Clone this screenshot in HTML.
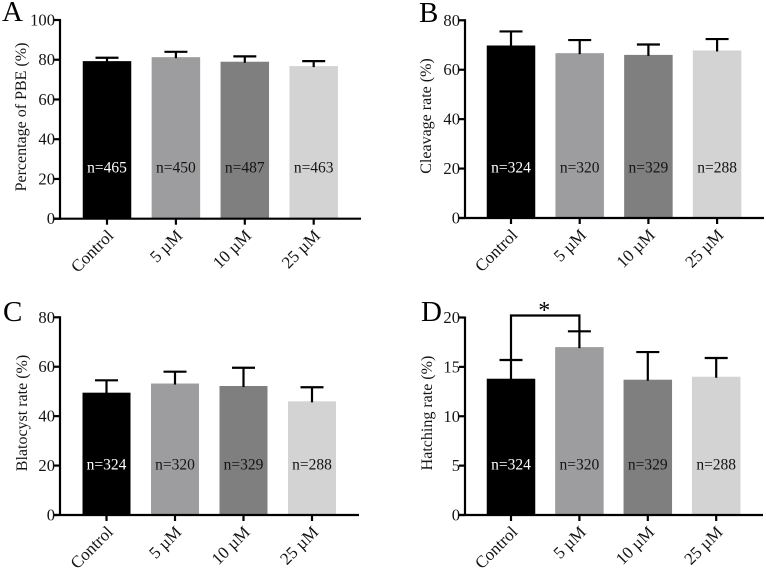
<!DOCTYPE html>
<html lang="en">
<head>
<meta charset="utf-8">
<title>Embryo development bar charts</title>
<style>
html,body{margin:0;padding:0;background:#fff;width:766px;height:568px;overflow:hidden}
svg{display:block}
text{font-family:"Liberation Serif",serif;fill:#141414}
</style>
</head>
<body>
<svg id="figure" width="766" height="568" viewBox="0 0 766 568" xmlns="http://www.w3.org/2000/svg"></svg>
<script>
var categories = ['Control', '5 µM', '10 µM', '25 µM'];
var barColors = ['#000000', '#9d9d9f', '#7f7f7f', '#d3d3d3'];

var valuesA = [79.3, 81.3, 79, 76.8];
var errorTopsA = [81, 84, 81.7, 79.3];
var countsA = ['n=465', 'n=450', 'n=487', 'n=463'];
var ticksA = [0, 20, 40, 60, 80, 100];

var valuesB = [69.8, 66.7, 66, 67.8];
var errorTopsB = [75.5, 72, 70.2, 72.4];
var countsB = ['n=324', 'n=320', 'n=329', 'n=288'];
var ticksB = [0, 20, 40, 60, 80];

var valuesC = [49.5, 53.2, 52.2, 46];
var errorTopsC = [54.5, 58, 59.6, 51.7];
var countsC = ['n=324', 'n=320', 'n=329', 'n=288'];
var ticksC = [0, 20, 40, 60, 80];

var valuesD = [13.8, 17, 13.7, 14];
var errorTopsD = [15.7, 18.6, 16.5, 15.9];
var countsD = ['n=324', 'n=320', 'n=329', 'n=288'];
var ticksD = [0, 5, 10, 15, 20];
var bracketLevelD = 20.2;

var panels = [
  {key:'a', letter:'A', title:'Percentage of PBE (%)', values:valuesA, tops:errorTopsA, counts:countsA, ticks:ticksA,
   axisX:60, y0:218.7, yTop:20, first:107, step:68.9, barW:48.5, end:361, nY:172.5, titleX:26, titleY:117, letterX:2, letterY:21},
  {key:'b', letter:'B', title:'Cleavage rate (%)', values:valuesB, tops:errorTopsB, counts:countsB, ticks:ticksB,
   axisX:465, y0:218, yTop:20.3, first:511, step:68.7, barW:48.5, end:764, nY:172.5, titleX:431, titleY:116, letterX:419, letterY:22},
  {key:'c', letter:'C', title:'Blatocyst rate (%)', values:valuesC, tops:errorTopsC, counts:countsC, ticks:ticksC,
   axisX:60, y0:515, yTop:317.3, first:106.5, step:68.5, barW:48, end:359, nY:469.5, titleX:27, titleY:413, letterX:3, letterY:321},
  {key:'d', letter:'D', title:'Hatching rate (%)', values:valuesD, tops:errorTopsD, counts:countsD, ticks:ticksD,
   axisX:465, y0:515, yTop:317.5, first:511, step:68.4, barW:48.5, end:763, nY:469.5, titleX:432, titleY:413, letterX:421, letterY:321, bracket:bracketLevelD}
];

var NS = 'http://www.w3.org/2000/svg';
var figure = document.getElementById('figure');

function make(parent, tag, attrs, content) {
  var el = document.createElementNS(NS, tag);
  for (var k in attrs) { el.setAttribute(k, attrs[k]); }
  if (content !== undefined) { el.textContent = content; }
  parent.appendChild(el);
  return el;
}

panels.forEach(function (p) {
  var maxTick = p.ticks[p.ticks.length - 1];
  function yScale(v) { return p.y0 - (v / maxTick) * (p.y0 - p.yTop); }
  function xScale(i) { return p.first + i * p.step; }

  var g = make(figure, 'g', {});
  
  

  var letter = make(g, 'text', {x: p.letterX, y: p.letterY, 'font-size': 29, style: 'fill:#000'}, p.letter);
  
  

  var title = make(g, 'text', {x: p.titleX, y: p.titleY, 'font-size': 16, 'text-anchor': 'middle',
    transform: 'rotate(-90 ' + p.titleX + ' ' + p.titleY + ')'}, p.title);
  
  

  categories.forEach(function (c, i) {
    var x = xScale(i);
    var bar = make(g, 'rect', {x: x - p.barW / 2, y: yScale(p.values[i]), width: p.barW,
      height: p.y0 - yScale(p.values[i]), fill: barColors[i]});
    
    

    var stem = make(g, 'line', {x1: x, x2: x, y1: yScale(p.values[i]) + 1, y2: yScale(p.tops[i]),
      stroke: '#000', 'stroke-width': 2.2});
    
    

    var cap = make(g, 'line', {x1: x - 11.5, x2: x + 11.5, y1: yScale(p.tops[i]), y2: yScale(p.tops[i]),
      stroke: '#000', 'stroke-width': 2.2});
    
    

    var count = make(g, 'text', {x: x, y: p.nY, 'font-size': 15.5, 'text-anchor': 'middle',
      style: 'fill:' + (i === 0 ? '#fff' : '#141414')}, p.counts[i]);
    
    

    var xTick = make(g, 'line', {x1: x, x2: x, y1: p.y0, y2: p.y0 + 6, stroke: '#000', 'stroke-width': 2.2});
    
    

    var lx = x + 7.5, ly = p.y0 + 18;
    var label = make(g, 'text', {x: lx, y: ly, 'font-size': 17, 'text-anchor': 'end',
      transform: 'rotate(-45 ' + lx + ' ' + ly + ')'}, c);
    
    
  });

  p.ticks.forEach(function (t) {
    var y = yScale(t);
    var tick = make(g, 'line', {x1: p.axisX - 6, x2: p.axisX, y1: y, y2: y, stroke: '#000', 'stroke-width': 2.2});
    
    

    var tl = make(g, 'text', {x: p.axisX - 5, y: y + 5.5, 'font-size': 16.6, 'text-anchor': 'end'}, String(t));
    
    
  });

  var yAxis = make(g, 'line', {x1: p.axisX, x2: p.axisX, y1: p.yTop - 1, y2: p.y0 + 1, stroke: '#000', 'stroke-width': 2.2});
  
  

  var xAxis = make(g, 'line', {x1: p.axisX - 6, x2: p.end, y1: p.y0, y2: p.y0, stroke: '#000', 'stroke-width': 2.2});
  
  

  if (p.bracket !== undefined) {
    var bx1 = xScale(0), bx2 = xScale(1), by = yScale(p.bracket);
    var bracket = make(g, 'path', {d: 'M' + bx1 + ' ' + yScale(p.tops[0]) + 'V' + by + 'H' + bx2 + 'V' + yScale(p.tops[1]),
      fill: 'none', stroke: '#000', 'stroke-width': 2.2});
    
    

    var star = make(g, 'text', {x: (bx1 + bx2) / 2 - 1, y: by + 2.5, 'font-size': 24, 'text-anchor': 'middle', style: 'fill:#000'}, '*');
    
    
  }
});
</script>
</body>
</html>
